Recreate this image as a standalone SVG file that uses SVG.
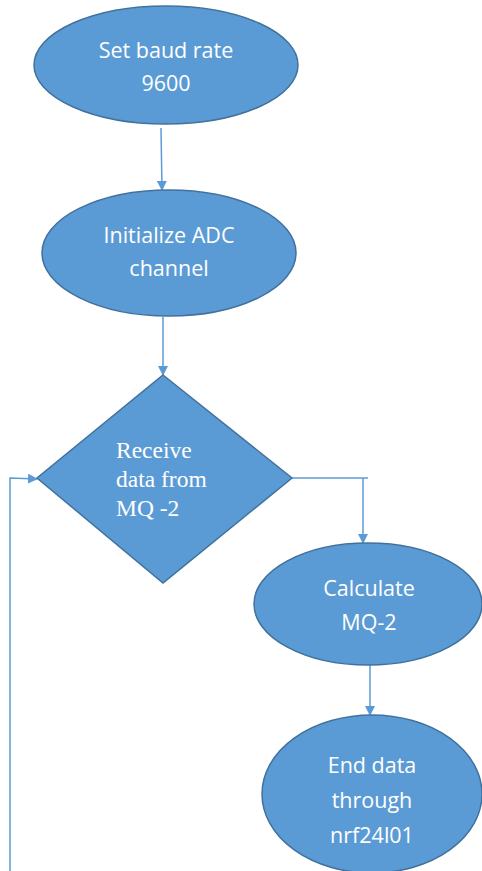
<svg xmlns="http://www.w3.org/2000/svg" width="482" height="871" viewBox="0 0 482 871">
<defs>
<marker id="ah" markerWidth="10" markerHeight="10" refX="9" refY="5" orient="auto" markerUnits="userSpaceOnUse">
<path d="M0,0 L10,5 L0,10 Z" fill="#5B9BD5"/>
</marker>
<style>
.shape{fill:#5B9BD5;stroke:#41719C;stroke-width:1.5}
.t{font-family:"Open Sans","Noto Sans",sans-serif;font-size:21.5px;fill:#ffffff;text-anchor:middle}
.s{font-family:"Liberation Serif","Times New Roman",serif;font-size:23.5px;fill:#ffffff}
.c{fill:none;stroke:#5B9BD5;stroke-width:1.5}
</style>
</defs>
<rect width="482" height="871" fill="#ffffff"/>
<g id="connectors">
<path class="c" d="M161,128 L162,190" marker-end="url(#ah)"/>
<path class="c" d="M163,317 L163,375" marker-end="url(#ah)"/>
<path class="c" d="M292,478 L368,478"/>
<path class="c" d="M363,478 L363,543" marker-end="url(#ah)"/>
<path class="c" d="M370,665 L370,715" marker-end="url(#ah)"/>
<path class="c" d="M10,871 L10,478 L37,479" marker-end="url(#ah)"/>
</g>
<g id="n1">
<ellipse class="shape" cx="166" cy="65" rx="132" ry="59"/>
<text class="t" x="166" y="58">Set baud rate</text>
<text class="t" x="166" y="91">9600</text>
</g>
<g id="n2">
<ellipse class="shape" cx="169" cy="253" rx="127" ry="63"/>
<text class="t" x="169" y="243">Initialize ADC</text>
<text class="t" x="169" y="276">channel</text>
</g>
<g id="n3">
<path class="shape" d="M163,375 L292,478 L163,583 L37,478 Z"/>
<text class="s" x="116" y="458">Receive</text>
<text class="s" x="116" y="487">data from</text>
<text class="s" x="116" y="516">MQ -2</text>
</g>
<g id="n4">
<ellipse class="shape" cx="368" cy="604" rx="114" ry="61"/>
<text class="t" x="369" y="596">Calculate</text>
<text class="t" x="369" y="630">MQ-2</text>
</g>
<g id="n5">
<ellipse class="shape" cx="372" cy="794" rx="110" ry="79"/>
<text class="t" x="372" y="773">End data</text>
<text class="t" x="372" y="808">through</text>
<text class="t" x="372" y="843">nrf24l01</text>
</g>
</svg>
